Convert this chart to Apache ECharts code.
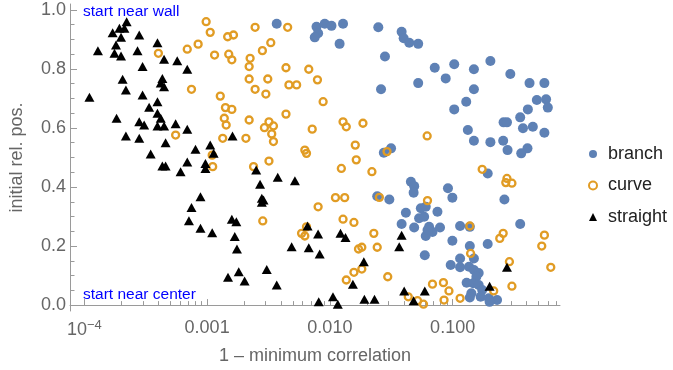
<!DOCTYPE html>
<html><head><meta charset="utf-8">
<script src="https://cdn.jsdelivr.net/npm/echarts@6/dist/echarts.min.js"></script>
<style>html,body{margin:0;padding:0;background:#fff}#c{width:673px;height:370px}</style>
</head><body><div id="c"></div>
<script>
const branchX = [3.69e-3,7.78e-3,8.02e-3,7.53e-3,9.08e-3,1.03e-2,1.28e-2,1.20e-2,2.48e-2,3.84e-2,3.99e-2,4.43e-2,5.24e-2,2.81e-2,7.15e-2,5.24e-2,2.61e-2,2.75e-2,3.15e-2,0.103,8.78e-2,0.149,0.203,0.295,0.423,0.559,0.149,0.129,0.103,0.485,0.577,0.596,0.410,0.355,0.260,0.277,0.374,0.450,0.559,0.133,0.149,0.203,0.258,0.280,0.407,0.362,4.57e-2,4.86e-2,4.81e-2,2.43e-2,3.05e-2,4.16e-2,3.84e-2,4.86e-2,5.33e-2,5.86e-2,5.51e-2,6.04e-2,7.52e-2,6.43e-2,6.85e-2,6.04e-2,6.24e-2,7.89e-2,5.93e-2,0.193,9.16e-2,9.95e-2,0.264,0.355,0.115,0.138,9.95e-2,0.138,0.193,0.115,0.149,9.64e-2,0.115,0.136,0.149,0.163,0.156,0.130,0.147,0.163,0.174,0.142,0.169,0.197,0.230,0.138,0.200];
const branchY = [0.953,0.943,0.921,0.907,0.953,0.946,0.953,0.885,0.941,0.926,0.904,0.889,0.885,0.842,0.804,0.752,0.731,0.516,0.531,0.816,0.768,0.799,0.827,0.783,0.752,0.752,0.731,0.689,0.663,0.695,0.697,0.669,0.663,0.636,0.619,0.619,0.599,0.604,0.584,0.593,0.557,0.552,0.557,0.525,0.531,0.514,0.418,0.403,0.381,0.369,0.358,0.313,0.275,0.263,0.294,0.299,0.328,0.333,0.316,0.265,0.248,0.234,0.254,0.263,0.169,0.446,0.396,0.364,0.358,0.275,0.268,0.265,0.218,0.200,0.207,0.158,0.158,0.136,0.128,0.130,0.119,0.109,0.096,0.076,0.074,0.068,0.051,0.040,0.028,0.023,0.017,0.026,0.011];

const curveX = [4.01e-4,6.89e-4,8.45e-4,7.46e-4,5.54e-4,9.82e-4,1.06e-3,1.47e-3,1.64e-3,2.46e-3,4.53e-3,1.15e-3,1.50e-3,1.59e-3,2.24e-3,2.20e-3,2.82e-3,3.30e-3,4.39e-3,6.73e-3,7.92e-3,2.20e-3,3.12e-3,2.46e-3,3.01e-3,4.64e-3,5.36e-3,1.28e-3,1.41e-3,1.59e-3,1.38e-3,1.43e-3,2.20e-3,3.19e-3,2.93e-3,3.47e-3,3.36e-3,4.39e-3,3.47e-3,1.34e-3,2.07e-3,7.18e-3,6.25e-3,6.45e-3,3.19e-3,8.81e-3,1.11e-3,1.10e-3,2.39e-3,8.02e-3,2.84e-3,5.88e-3,6.25e-3,6.45e-3,1.28e-2,1.36e-2,1.86e-2,1.61e-2,2.92e-2,6.2e-2,1.64e-2,1.24e-2,2.20e-2,1.11e-2,1.32e-2,1.28e-2,1.57e-2,2.28e-2,1.71e-2,1.82e-2,2.43e-2,1.36e-2,1.57e-2,1.82e-2,2.96e-2,6.24e-2,4.35e-2,5.18e-2,5.79e-2,6.85e-2,2.53e-2,0.174,0.277,0.304,0.271,0.138,0.258,0.242,0.559,0.532,0.140,0.290,0.630,8.41e-2,9.33e-2,8.51e-2,0.115,0.216,0.304];
const curveY = [0.853,0.867,0.884,0.731,0.576,0.960,0.924,0.909,0.915,0.941,0.941,0.847,0.850,0.831,0.836,0.808,0.862,0.889,0.804,0.799,0.763,0.766,0.766,0.731,0.715,0.746,0.746,0.708,0.669,0.663,0.633,0.610,0.627,0.621,0.601,0.607,0.580,0.647,0.554,0.565,0.565,0.596,0.525,0.514,0.488,0.689,0.469,0.508,0.469,0.333,0.285,0.243,0.234,0.265,0.621,0.604,0.616,0.542,0.520,0.573,0.492,0.463,0.452,0.364,0.364,0.291,0.280,0.243,0.190,0.196,0.196,0.085,0.111,0.122,0.096,0.354,0.028,0.015,0.003,0.071,0.365,0.460,0.429,0.413,0.415,0.268,0.243,0.226,0.237,0.200,0.175,0.147,0.128,0.076,0.048,0.017,0.023,0.048,0.064];

const straightX = [2.21e-4,1.70e-4,1.93e-4,2.12e-4,1.99e-4,2.80e-4,1.29e-4,1.81e-4,1.76e-4,1.99e-4,2.71e-4,3.94e-4,4.46e-4,5.71e-4,6.89e-4,2.98e-4,2.05e-4,4.32e-4,4.19e-4,2.18e-4,4.46e-4,2.98e-4,1.10e-4,3.94e-4,3.37e-4,3.94e-4,4.19e-4,1.83e-4,2.80e-4,3.07e-4,3.94e-4,4.46e-4,5.54e-4,6.89e-4,2.18e-4,2.80e-4,4.59e-4,8.04e-4,3.47e-4,6.89e-4,4.32e-4,4.59e-4,6.08e-4,8.83e-4,7.46e-4,7.11e-4,8.83e-4,1.13e-3,9.69e-4,9.69e-4,2.51e-3,2.70e-3,3.76e-3,5.19e-3,2.79e-3,2.88e-3,2.79e-3,1.59e-3,1.73e-3,1.10e-3,1.68e-3,1.75e-3,6.58e-3,8.02e-3,4.88e-3,6.73e-3,8.26e-3,1.48e-3,1.81e-3,2.02e-3,3.06e-3,3.69e-3,8.11e-3,1.61e-3,1.06e-3,1.22e-2,1.34e-2,1.89e-2,1.54e-2,1.06e-2,1.16e-2,1.91e-2,2.31e-2,3.84e-2,3.67e-2,4.03e-2,4.81e-2,5.93e-2,0.277,0.200];
const straightY = [0.960,0.923,0.938,0.938,0.907,0.915,0.862,0.881,0.853,0.844,0.862,0.889,0.833,0.828,0.799,0.808,0.765,0.768,0.752,0.729,0.740,0.712,0.704,0.689,0.670,0.650,0.633,0.633,0.621,0.610,0.607,0.607,0.614,0.596,0.573,0.565,0.550,0.528,0.512,0.485,0.471,0.471,0.452,0.367,0.331,0.286,0.260,0.514,0.480,0.463,0.458,0.409,0.433,0.421,0.362,0.356,0.348,0.291,0.282,0.245,0.232,0.190,0.268,0.241,0.198,0.194,0.173,0.094,0.113,0.082,0.121,0.068,0.011,0.573,0.542,0.243,0.229,0.147,0.071,0.028,0.003,0.020,0.020,0.237,0.198,0.048,0.015,0.048,0.128,0.064];

const seriesNames = ['branch', 'curve', 'straight'];
const xTickValues = [1e-4, 1e-3, 1e-2, 1e-1];
const xTickLabels = ['10^-4', '0.001', '0.010', '0.100'];
const xMinorTicks = [2e-4,3e-4,4e-4,5e-4,6e-4,7e-4,8e-4,9e-4,2e-3,3e-3,4e-3,5e-3,6e-3,7e-3,8e-3,9e-3,2e-2,3e-2,4e-2,5e-2,6e-2,7e-2,8e-2,9e-2,0.2,0.3,0.4,0.5,0.6,0.7];
const yTickValues = [0, 0.2, 0.4, 0.6, 0.8, 1.0];
const yMinorTicks = [0.05,0.1,0.15,0.25,0.3,0.35,0.45,0.5,0.55,0.65,0.7,0.75,0.85,0.9,0.95];
const xAxisTitle = '1 \u2013 minimum correlation';
const yAxisTitle = 'initial rel. pos.';
const noteTop = 'start near wall';
const noteBottom = 'start near center';

const FONT = '"Liberation Sans", Arial, sans-serif';
const AXIS_GRAY = '#9a9a9a';
const LABEL_GRAY = '#666666';
const BLUE = '#5e81b5', ORANGE = '#e19c24';

function pairs(xs, ys) { return xs.map((x, i) => [x, ys[i]]); }
function xLabel(v) {
  for (let i = 0; i < xTickValues.length; i++) {
    if (Math.abs(Math.log10(v) - Math.log10(xTickValues[i])) < 1e-6) {
      const s = xTickLabels[i];
      if (s.indexOf('^') >= 0) {
        const p = s.split('^');
        return '{b|' + p[0] + '}{s|' + p[1].replace('-', '\u2212') + '}';
      }
      return s;
    }
  }
  return '';
}

const grid = { left: 67, right: 113, top: 4, bottom: 59 };
const xMin = 7.64e-5, xMax = 0.749;
const yMin = -0.02, yMax = 1.02;

const chart = echarts.init(document.getElementById('c'), null, { renderer: 'canvas' });
chart.setOption({
  animation: false,
  backgroundColor: '#ffffff',
  grid: grid,
  textStyle: { fontFamily: FONT },
  xAxis: [
    {
      type: 'log', logBase: 10, min: xMin, max: xMax,
      name: xAxisTitle, nameLocation: 'middle', nameGap: 36,
      nameTextStyle: { fontSize: 18, color: LABEL_GRAY, fontFamily: FONT },
      axisLine: { show: true, lineStyle: { color: AXIS_GRAY, width: 1 } },
      axisTick: { show: true, inside: true, length: 6, lineStyle: { color: AXIS_GRAY }, customValues: xTickValues },
      axisLabel: {
        show: true, margin: 8, fontSize: 18, color: LABEL_GRAY, fontFamily: FONT,
        customValues: xTickValues, formatter: xLabel,
        rich: {
          b: { fontSize: 18, color: LABEL_GRAY, fontFamily: FONT },
          s: { fontSize: 13, color: LABEL_GRAY, fontFamily: FONT, verticalAlign: 'bottom', padding: [0, 0, 9, 0] }
        }
      },
      splitLine: { show: false }
    },
    {
      type: 'log', logBase: 10, min: xMin, max: xMax, position: 'bottom',
      axisLine: { show: false },
      axisTick: { show: true, inside: true, length: 4, lineStyle: { color: AXIS_GRAY }, customValues: xMinorTicks },
      axisLabel: { show: false },
      splitLine: { show: false }
    }
  ],
  yAxis: [
    {
      type: 'value', min: yMin, max: yMax,
      name: yAxisTitle, nameLocation: 'middle', nameGap: 44, nameRotate: 90,
      nameTextStyle: { fontSize: 18, color: LABEL_GRAY, fontFamily: FONT },
      axisLine: { show: true, lineStyle: { color: AXIS_GRAY, width: 1 } },
      axisTick: { show: true, inside: true, length: 7, lineStyle: { color: AXIS_GRAY }, customValues: yTickValues },
      axisLabel: {
        show: true, margin: 4, fontSize: 18, color: LABEL_GRAY, fontFamily: FONT,
        customValues: yTickValues, formatter: v => v.toFixed(1)
      },
      splitLine: { show: false }
    },
    {
      type: 'value', min: yMin, max: yMax, position: 'left',
      axisLine: { show: false },
      axisTick: { show: true, inside: true, length: 4.5, lineStyle: { color: AXIS_GRAY }, customValues: yMinorTicks },
      axisLabel: { show: false },
      splitLine: { show: false }
    }
  ],
  legend: {
    orient: 'vertical', left: 588, top: 145, itemWidth: 8, itemHeight: 8, itemGap: 13.5, padding: 0,
    textStyle: { fontSize: 18, color: '#222222', fontFamily: FONT, padding: [0, 0, 0, 6] },
    data: [
      { name: seriesNames[0], icon: 'circle', itemStyle: { color: BLUE } },
      { name: seriesNames[1], icon: 'circle', itemStyle: { color: 'rgba(0,0,0,0)', borderColor: ORANGE, borderWidth: 2 } },
      { name: seriesNames[2], icon: 'triangle', itemStyle: { color: '#000000' } }
    ]
  },
  graphic: [
    { type: 'text', left: 83, top: 4, style: { text: noteTop, fill: '#0000ff', font: '15.5px ' + FONT } },
    { type: 'text', left: 83, top: 287, style: { text: noteBottom, fill: '#0000ff', font: '15.5px ' + FONT } }
  ],
  series: [
    {
      name: seriesNames[0], type: 'scatter', xAxisIndex: 0, yAxisIndex: 0,
      symbol: 'circle', symbolSize: 10,
      itemStyle: { color: BLUE, opacity: 1 },
      data: pairs(branchX, branchY)
    },
    {
      name: seriesNames[1], type: 'scatter', xAxisIndex: 0, yAxisIndex: 0,
      symbol: 'circle', symbolSize: 7,
      itemStyle: { color: 'rgba(0,0,0,0)', borderColor: ORANGE, borderWidth: 2.3, opacity: 1 },
      data: pairs(curveX, curveY)
    },
    {
      name: seriesNames[2], type: 'scatter', xAxisIndex: 0, yAxisIndex: 0,
      symbol: 'triangle', symbolSize: [10, 9],
      itemStyle: { color: '#000000', opacity: 1 },
      data: pairs(straightX, straightY)
    }
  ]
});
</script>
</body></html>
